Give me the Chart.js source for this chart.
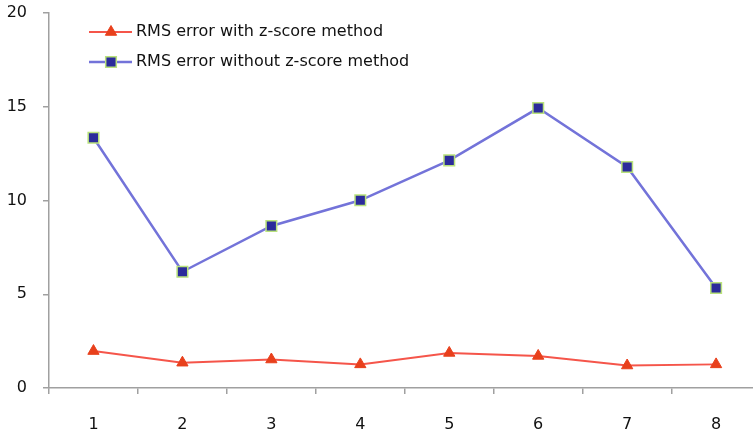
<!DOCTYPE html>
<html>
<head>
<meta charset="utf-8">
<script src="https://cdn.jsdelivr.net/npm/chart.js@4.4.1/dist/chart.umd.min.js"></script>
<style>
  html, body { margin: 0; padding: 0; background: #fff; overflow: hidden; }
  #wrap { width: 753px; height: 435px; overflow: hidden; position: relative; }
  #c { display: block; }
</style>
</head>
<body>
<div id="wrap"><canvas id="c"></canvas></div>
<script>
const categories = ['1', '2', '3', '4', '5', '6', '7', '8'];
const withZScore = [1.97, 1.35, 1.52, 1.26, 1.87, 1.71, 1.20, 1.26];
const withoutZScore = [13.35, 6.20, 8.64, 10.01, 12.14, 14.93, 11.79, 5.33];
const seriesNames = ['RMS error with z-score method', 'RMS error without z-score method'];
const yTicks = [0, 5, 10, 15, 20];

const FONT = '"DejaVu Sans", sans-serif';
const TEXT = '#111111';
const AXIS = '#a0a0a0';

// category positions 1..n on a linear axis; the plot is cropped on the right like the original
const xPos = categories.map((c, i) => i + 1);
const toPoints = (arr) => arr.map((v, i) => ({ x: xPos[i], y: v }));
const xTickValues = [];
xPos.forEach(p => { xTickValues.push(p - 0.5); xTickValues.push(p); });

const insideLegend = {
  id: 'insideLegend',
  afterDatasetsDraw(chart) {
    const ctx = chart.ctx;
    const rows = [32, 62];
    const drawPoint = (Chart.helpers && Chart.helpers.drawPoint);
    chart.data.datasets.forEach((ds, i) => {
      const y = rows[i];
      ctx.save();
      ctx.strokeStyle = ds.borderColor;
      ctx.lineWidth = ds.borderWidth;
      ctx.beginPath();
      ctx.moveTo(89, y);
      ctx.lineTo(132, y);
      ctx.stroke();
      ctx.fillStyle = ds.pointBackgroundColor;
      ctx.strokeStyle = ds.pointBorderColor;
      ctx.lineWidth = ds.pointBorderWidth;
      if (drawPoint) {
        drawPoint(ctx, { pointStyle: ds.pointStyle, radius: ds.pointRadius, borderWidth: ds.pointBorderWidth, rotation: 0 }, 111, y);
      }
      ctx.fillStyle = TEXT;
      ctx.font = '16px ' + FONT;
      ctx.textBaseline = 'middle';
      ctx.textAlign = 'left';
      ctx.fillText(ds.label, 136, y);
      ctx.restore();
    });
  }
};

new Chart(document.getElementById('c'), {
  type: 'line',
  data: {
    datasets: [
      {
        label: seriesNames[0],
        data: toPoints(withZScore),
        borderColor: '#f5554a',
        borderWidth: 2,
        pointStyle: 'triangle',
        pointRadius: 6.5,
        pointHoverRadius: 6.5,
        pointBackgroundColor: '#e8401c',
        pointBorderColor: '#e8401c',
        pointBorderWidth: 1,
        tension: 0
      },
      {
        label: seriesNames[1],
        data: toPoints(withoutZScore),
        borderColor: '#7373d9',
        borderWidth: 2.5,
        pointStyle: 'rect',
        pointRadius: 7.5,
        pointHoverRadius: 7.5,
        pointBackgroundColor: '#2b2b9b',
        pointBorderColor: '#b9e27c',
        pointBorderWidth: 1.5,
        tension: 0
      }
    ]
  },
  options: {
    responsive: true,
    maintainAspectRatio: false,
    animation: false,
    layout: { autoPadding: false, padding: { top: 13, right: 0, left: 0, bottom: 0 } },
    plugins: {
      legend: { display: false },
      tooltip: { enabled: false }
    },
    scales: {
      x: {
        type: 'linear',
        min: 0.5,
        max: 8.415,
        afterBuildTicks: (s) => { s.ticks = xTickValues.map(v => ({ value: v })); },
        grid: {
          drawOnChartArea: false, drawTicks: true, tickLength: 6, lineWidth: 1.5,
          tickColor: (c) => (c.tick && Number.isInteger(c.tick.value)) ? 'rgba(0,0,0,0)' : AXIS,
          color: AXIS
        },
        border: { color: AXIS, width: 1.5 },
        ticks: {
          autoSkip: false, maxRotation: 0,
          color: TEXT, font: { family: FONT, size: 16 }, padding: 21,
          callback: (v) => Number.isInteger(v) ? categories[v - 1] : ''
        },
        afterFit: (s) => { s.height = 47; s.paddingLeft = 0; s.paddingRight = 0; }
      },
      y: {
        min: 0,
        max: 20,
        afterBuildTicks: (s) => { s.ticks = yTicks.map(v => ({ value: v })); },
        grid: { drawOnChartArea: false, drawTicks: true, tickLength: 6, color: AXIS, lineWidth: 1.5 },
        border: { color: AXIS, width: 1.5 },
        ticks: { color: TEXT, font: { family: FONT, size: 16 }, padding: 16 },
        afterFit: (s) => { s.width = 49; s.paddingTop = 0; s.paddingBottom = 0; }
      }
    }
  },
  plugins: [insideLegend]
});
</script>
</body>
</html>
